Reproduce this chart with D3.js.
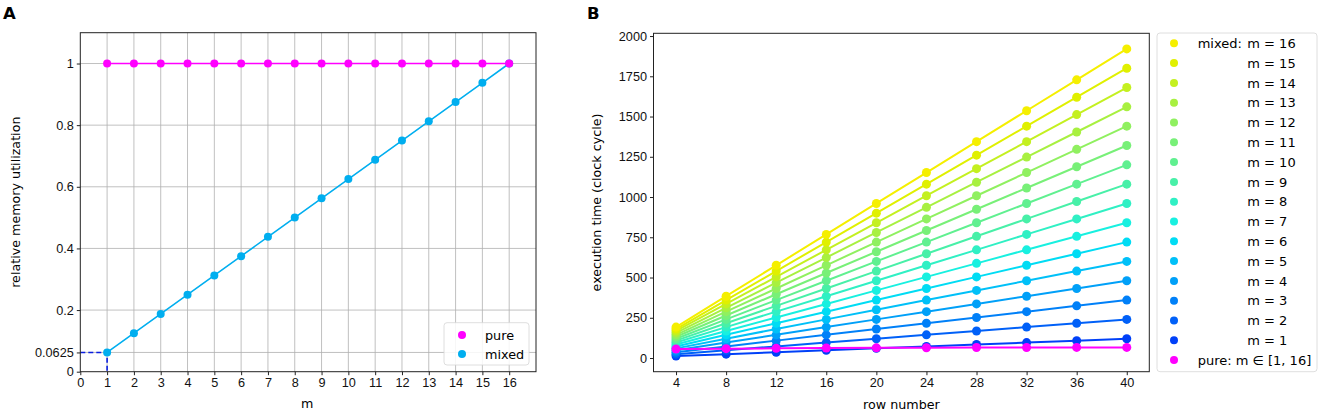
<!DOCTYPE html>
<html>
<head>
<meta charset="utf-8">
<script src="https://cdn.jsdelivr.net/npm/d3@7"></script>
<style>
  body { margin: 0; background: #fff; }
  svg { font-family: "DejaVu Sans", sans-serif; }
  .axis path, .axis line { stroke: #222; }
  .axis text { fill: #111; font-size: 12.7px; }
</style>
</head>
<body>
<svg id="chart" width="1325" height="415"></svg>
<script>
// ---- panel A data ----
const mValues = [1, 2, 3, 4, 5, 6, 7, 8, 9, 10, 11, 12, 13, 14, 15, 16]
const pureUtil = [1, 1, 1, 1, 1, 1, 1, 1, 1, 1, 1, 1, 1, 1, 1, 1]
const mixedUtil = [0.0625, 0.125, 0.1875, 0.25, 0.3125, 0.375, 0.4375, 0.5, 0.5625, 0.625, 0.6875, 0.75, 0.8125, 0.875, 0.9375, 1]
const aXTicks = [0, 1, 2, 3, 4, 5, 6, 7, 8, 9, 10, 11, 12, 13, 14, 15, 16]
const aYTicks = [0, 0.0625, 0.2, 0.4, 0.6, 0.8, 1]
const aYLabels = ['0', '0.0625', '0.2', '0.4', '0.6', '0.8', '1']

// ---- panel B data ----
const rowNumbers = [4, 8, 12, 16, 20, 24, 28, 32, 36, 40]
const mixed_m1 = [12, 24, 36, 48, 60, 72, 84, 96, 108, 120]
const mixed_m2 = [24, 48, 72, 96, 120, 144, 168, 192, 216, 240]
const mixed_m3 = [36, 72, 108, 144, 180, 216, 252, 288, 324, 360]
const mixed_m4 = [48, 96, 144, 192, 240, 288, 336, 384, 432, 480]
const mixed_m5 = [60, 120, 180, 240, 300, 360, 420, 480, 540, 600]
const mixed_m6 = [72, 144, 216, 288, 360, 432, 504, 576, 648, 720]
const mixed_m7 = [84, 168, 252, 336, 420, 504, 588, 672, 756, 840]
const mixed_m8 = [96, 192, 288, 384, 480, 576, 672, 768, 864, 960]
const mixed_m9 = [108, 216, 324, 432, 540, 648, 756, 864, 972, 1080]
const mixed_m10 = [120, 240, 360, 480, 600, 720, 840, 960, 1080, 1200]
const mixed_m11 = [132, 264, 396, 528, 660, 792, 924, 1056, 1188, 1320]
const mixed_m12 = [144, 288, 432, 576, 720, 864, 1008, 1152, 1296, 1440]
const mixed_m13 = [156, 312, 468, 624, 780, 936, 1092, 1248, 1404, 1560]
const mixed_m14 = [168, 336, 504, 672, 840, 1008, 1176, 1344, 1512, 1680]
const mixed_m15 = [180, 360, 540, 720, 900, 1080, 1260, 1440, 1620, 1800]
const mixed_m16 = [192, 384, 576, 768, 960, 1152, 1344, 1536, 1728, 1920]
const pureTime = [56, 58, 60, 62, 63, 64, 65, 65, 66, 66]
const bXTicks = [4, 8, 12, 16, 20, 24, 28, 32, 36, 40]
const bYTicks = [0, 250, 500, 750, 1000, 1250, 1500, 1750, 2000]
const mixedColors = ['#0040f8', '#0060f8', '#0080f8', '#00a0f8', '#00c0f8', '#00dcf4',
  '#18f0e0', '#30f0c4', '#48f0a8', '#60f090', '#78f078', '#90f060',
  '#a8f040', '#c4f020', '#e0f000', '#f5ef00']

const mixedSeries = [mixed_m1, mixed_m2, mixed_m3, mixed_m4, mixed_m5, mixed_m6, mixed_m7, mixed_m8,
  mixed_m9, mixed_m10, mixed_m11, mixed_m12, mixed_m13, mixed_m14, mixed_m15, mixed_m16]

const svg = d3.select('#chart')

// ================= panel A =================
let a = { left: 80.3, right: 536, top: 32.7, bottom: 371.7 }
let ax = d3.scaleLinear().domain([0, 17]).range([a.left, a.right])
let ay = d3.scaleLinear().domain([0, 1.1]).range([a.bottom, a.top])

let gA = svg.append('g')

// grid
gA.selectAll('.vgrid').data(aXTicks.slice(1)).enter().append('line')
  .attr('x1', d => ax(d)).attr('x2', d => ax(d))
  .attr('y1', a.top).attr('y2', a.bottom)
  .attr('stroke', '#b0b0b0').attr('stroke-width', 0.8)
gA.selectAll('.hgrid').data(aYTicks.slice(1)).enter().append('line')
  .attr('x1', a.left).attr('x2', a.right)
  .attr('y1', d => ay(d)).attr('y2', d => ay(d))
  .attr('stroke', '#b0b0b0').attr('stroke-width', 0.8)

// dashed guide at m = 1
gA.append('path')
  .attr('d', `M${ax(0)},${ay(mixedUtil[0])}H${ax(mValues[0])}V${ay(0)}`)
  .attr('fill', 'none').attr('stroke', '#0a1ee0').attr('stroke-width', 1.6)
  .attr('stroke-dasharray', '5,3')

let lineA = d3.line().x((d, i) => ax(mValues[i])).y(d => ay(d))
let aSeries = [
  { vals: mixedUtil, color: '#00aeef' },
  { vals: pureUtil, color: '#ff00ff' }
]
aSeries.forEach(s => {
  gA.append('path').attr('d', lineA(s.vals))
    .attr('fill', 'none').attr('stroke', s.color).attr('stroke-width', 1.6)
  gA.selectAll(null).data(s.vals).enter().append('circle')
    .attr('cx', (d, i) => ax(mValues[i])).attr('cy', d => ay(d))
    .attr('r', 4).attr('fill', s.color)
})

// axes
gA.append('g').attr('class', 'axis')
  .attr('transform', `translate(0,${a.bottom})`)
  .call(d3.axisBottom(ax).tickValues(aXTicks).tickSize(3.5).tickPadding(3).tickSizeOuter(0))
gA.append('g').attr('class', 'axis')
  .attr('transform', `translate(${a.left},0)`)
  .call(d3.axisLeft(ay).tickValues(aYTicks).tickFormat((d, i) => aYLabels[i]).tickSize(3.5).tickPadding(3).tickSizeOuter(0))
gA.selectAll('.axis .domain').remove()
gA.append('rect')
  .attr('x', a.left).attr('y', a.top)
  .attr('width', a.right - a.left).attr('height', a.bottom - a.top)
  .attr('fill', 'none').attr('stroke', '#222').attr('stroke-width', 1)

// labels
gA.append('text').attr('x', (a.left + a.right) / 2 - 1).attr('y', 408)
  .attr('text-anchor', 'middle').attr('font-size', 12.7).text('m')
gA.append('text').attr('transform', `translate(19.5,${(a.top + a.bottom) / 2}) rotate(-90)`)
  .attr('text-anchor', 'middle').attr('font-size', 12.7).text('relative memory utilization')
gA.append('text').attr('x', 3).attr('y', 18.5)
  .attr('font-size', 16.5).attr('font-weight', 'bold').text('A')

// legend A
let legA = gA.append('g')
legA.append('rect').attr('x', 444).attr('y', 322.7).attr('width', 85).attr('height', 42.3)
  .attr('rx', 3).attr('fill', 'white').attr('fill-opacity', 0.85)
  .attr('stroke', '#d6d6d6').attr('stroke-width', 0.8)
let legAItems = [['pure', '#ff00ff'], ['mixed', '#00aeef']]
legAItems.forEach((it, i) => {
  legA.append('circle').attr('cx', 462).attr('cy', 335 + i * 19).attr('r', 4).attr('fill', it[1])
  legA.append('text').attr('x', 485).attr('y', 339.6 + i * 19).attr('font-size', 12.8).text(it[0])
})

// ================= panel B =================
let b = { left: 653.5, right: 1149.3, top: 33.3, bottom: 371.7 }
let bx = d3.scaleLinear().domain([2.2, 41.8]).range([b.left, b.right])
let by = d3.scaleLinear().domain([-85, 2017]).range([b.bottom, b.top])

let gB = svg.append('g')
let lineB = d3.line().x((d, i) => bx(rowNumbers[i])).y(d => by(d))

mixedSeries.forEach((vals, k) => {
  gB.append('path').attr('d', lineB(vals))
    .attr('fill', 'none').attr('stroke', mixedColors[k]).attr('stroke-width', 2)
  gB.selectAll(null).data(vals).enter().append('circle')
    .attr('cx', (d, i) => bx(rowNumbers[i])).attr('cy', d => by(d))
    .attr('r', 4.5).attr('fill', mixedColors[k])
})
gB.append('path').attr('d', lineB(pureTime))
  .attr('fill', 'none').attr('stroke', '#ff00ff').attr('stroke-width', 2)
gB.selectAll(null).data(pureTime).enter().append('circle')
  .attr('cx', (d, i) => bx(rowNumbers[i])).attr('cy', d => by(d))
  .attr('r', 4.5).attr('fill', '#ff00ff')

gB.append('g').attr('class', 'axis')
  .attr('transform', `translate(0,${b.bottom})`)
  .call(d3.axisBottom(bx).tickValues(bXTicks).tickSize(3.5).tickPadding(3).tickSizeOuter(0))
gB.append('g').attr('class', 'axis')
  .attr('transform', `translate(${b.left},0)`)
  .call(d3.axisLeft(by).tickValues(bYTicks).tickFormat(d3.format('d')).tickSize(3.5).tickPadding(3).tickSizeOuter(0))
gB.selectAll('.axis .domain').remove()
gB.append('rect')
  .attr('x', b.left).attr('y', b.top)
  .attr('width', b.right - b.left).attr('height', b.bottom - b.top)
  .attr('fill', 'none').attr('stroke', '#222').attr('stroke-width', 1)

gB.append('text').attr('x', (b.left + b.right) / 2).attr('y', 409)
  .attr('text-anchor', 'middle').attr('font-size', 12.7).text('row number')
gB.append('text').attr('transform', `translate(601,${(b.top + b.bottom) / 2}) rotate(-90)`)
  .attr('text-anchor', 'middle').attr('font-size', 12.7).text('execution time (clock cycle)')
gB.append('text').attr('x', 587).attr('y', 18.5)
  .attr('font-size', 16.5).attr('font-weight', 'bold').text('B')

// legend B
let legB = gB.append('g')
legB.append('rect').attr('x', 1157).attr('y', 33).attr('width', 160).attr('height', 338.7)
  .attr('rx', 3).attr('fill', 'white')
  .attr('stroke', '#d6d6d6').attr('stroke-width', 0.8)
let legRowY = i => 43.3 + i * 19.8
for (let k = 15; k >= 0; k--) {
  let i = 15 - k
  legB.append('circle').attr('cx', 1174).attr('cy', legRowY(i)).attr('r', 4).attr('fill', mixedColors[k])
  legB.append('text').attr('x', 1247.3).attr('y', legRowY(i) + 4.7)
    .attr('font-size', 13).text('m = ' + mValues[k])
  if (k === 15) {
    legB.append('text').attr('x', 1197.7).attr('y', legRowY(i) + 4.7)
      .attr('font-size', 13).text('mixed:')
  }
}
legB.append('circle').attr('cx', 1174).attr('cy', legRowY(16)).attr('r', 4).attr('fill', '#ff00ff')
legB.append('text').attr('x', 1197.7).attr('y', legRowY(16) + 4.7)
  .attr('font-size', 13).text('pure: m ∈ [1, 16]')
</script>
</body>
</html>
